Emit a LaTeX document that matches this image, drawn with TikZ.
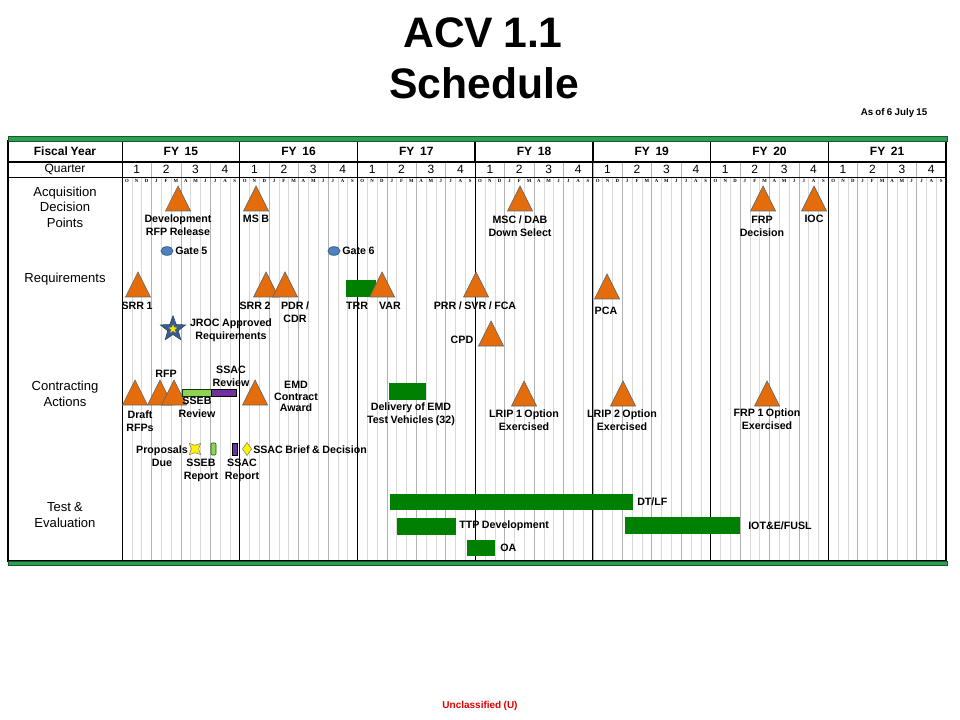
\documentclass[tikz,border=0pt]{standalone}
\usepackage{fontspec}
\setmainfont{Liberation Sans}[WordSpace=0.85]
\newfontfamily\monthfont{Liberation Serif}
\usepackage{tikz}
\usetikzlibrary{shapes.geometric,positioning}
\definecolor{acvGreen}{HTML}{2E9E52}
\definecolor{acvGreenDk}{HTML}{14592E}
\definecolor{acvOrange}{HTML}{E46C0A}
\definecolor{acvBar}{HTML}{008000}
\definecolor{acvLime}{HTML}{92D050}
\definecolor{acvPurple}{HTML}{7030A0}
\definecolor{acvBlue}{HTML}{4F81BD}
\definecolor{acvNavy}{HTML}{385D8A}
\definecolor{acvRed}{HTML}{E00000}
\newcommand{\mstone}[3]{%
  \coordinate (#1) at (#2,#3);
  \draw[mstri] (#1) ++(-12.5,0) -- ++(12.5,-25) -- ++(12.5,25) -- cycle;}

\begin{document}
\begin{tikzpicture}[x=0.75pt,y=-0.75pt,
  lbl/.style={font=\fontsize{8}{9.75}\selectfont\bfseries,align=center,inner sep=0pt},
  rowlbl/.style={font=\fontsize{9.8}{11.6}\selectfont,align=center,inner sep=0pt},
  head/.style={font=\fontsize{9}{10}\selectfont\bfseries,inner sep=0pt},
  qtxt/.style={font=\fontsize{9}{10}\selectfont,inner sep=0pt},
  motxt/.style={font=\monthfont\fontsize{3.6}{3.6}\selectfont\bfseries,inner sep=0pt},
  monthline/.style={gray!30,line width=0.4pt},
  qline/.style={gray!60,line width=0.4pt},
  fyline/.style={black,line width=0.6pt},
  mstri/.style={fill=acvOrange,draw=gray!80!black,line width=0.5pt},
  barbox/.style={fill=acvBar,draw=none},
  gate/.style={ellipse,fill=acvBlue,draw=acvNavy,line width=0.6pt,
    minimum width=9pt,minimum height=6.5pt,inner sep=0pt}]

  \useasboundingbox (0,0) rectangle (960,720);

  % title
  \node[font=\fontsize{32}{34}\selectfont\bfseries,anchor=base] (title) at (483,48) {ACV 1.1};
  \node[font=\fontsize{32}{34}\selectfont\bfseries,anchor=base] (subtitle) at (484,99) {Schedule};
  \node[font=\fontsize{7.3}{8}\selectfont\bfseries,anchor=base east] (asof) at (932,116) {As of 6 July 15};

  % grid
  \foreach \m in {1,...,83}
    \draw[monthline] ({122+\m*9.8095},177) -- ({122+\m*9.8095},561);
  \foreach \q in {1,...,27}
    \draw[qline] ({122+\q*29.4286},162) -- ({122+\q*29.4286},561);
  \foreach \k in {0,...,6}
    \draw[fyline] ({122+\k*117.714},141) -- ({122+\k*117.714},561);
  \foreach \k in {1,...,6}
    \draw[line width=1.1pt] ({122+\k*117.714},141) -- ({122+\k*117.714},162);
  \draw[line width=0.8pt] (8,141) rectangle (946,561);
  \draw[line width=0.8pt] (8,162) -- (946,162);
  \draw[line width=0.6pt] (8,177) -- (946,177);
  \draw[fill=acvGreen,draw=acvGreenDk,line width=0.4pt] (8,136) rectangle (947,141);
  \draw[fill=acvGreen,draw=acvGreenDk,line width=0.4pt] (8,561) rectangle (947,565);

  % header
  \node[head] (fyhd) at (65,151.5) {Fiscal Year};
  \node[qtxt] (qhd) at (65,169.5) {Quarter};
  \foreach [count=\k from 0] \fy in {15,...,21} {
    \node[head] (fy\fy) at ({122+(\k+0.5)*117.714},151.5) {FY\ \ \fy};
    \foreach \q in {1,...,4}
      \node[qtxt] (q\fy-\q) at ({122+(\k*4+\q-0.5)*29.4286},169.5) {\q};
    \foreach [count=\i from 0] \mname in {O,N,D,J,F,M,A,M,J,J,A,S}
      \node[motxt] (m\fy-\i) at ({122+(\k*12+\i+0.5)*9.8095},180.5) {\mname};
  }

  % row labels
  \node[rowlbl] (adp) at (65,207) {Acquisition\\Decision\\Points};
  \node[rowlbl] (req) at (65,279) {Requirements};
  \node[rowlbl] (ca) at (65,394) {Contracting\\Actions};
  \node[rowlbl] (te) at (65,515) {Test \&\\Evaluation};

  % acquisition decision points
  \mstone{devrfp}{178}{211}
  \mstone{msb}{256}{211}
  \mstone{msc}{520}{211}
  \mstone{frpd}{763}{211}
  \mstone{ioc}{814}{211}
  \node[lbl] (devrfp-l) at (178,225.5) {Development\\RFP Release};
  \node[lbl] (msb-l) at (256,219) {MS B};
  \node[lbl] (msc-l) at (520,226) {MSC / DAB\\Down Select};
  \node[lbl] (frpd-l) at (762,226) {FRP\\Decision};
  \node[lbl] (ioc-l) at (814,219) {IOC};
  \node[gate] (gate5) at (167,251) {};
  \node[lbl,anchor=west] (gate5-l) at (175,251) {Gate 5};
  \node[gate] (gate6) at (334,251) {};
  \node[lbl,anchor=west] (gate6-l) at (342,251) {Gate 6};

  % requirements
  \mstone{srr1}{138}{297}
  \mstone{srr2}{266}{297}
  \mstone{pdr}{285}{297}
  \fill[acvBar] (346,280) rectangle (376,297);
  \mstone{var}{382}{297}
  \mstone{prr}{476}{297}
  \mstone{cpd}{491}{346}
  \mstone{pca}{607}{299}
  \node[lbl] (srr1-l) at (137,306) {SRR 1};
  \node[lbl] (srr2-l) at (255,306) {SRR 2};
  \node[lbl] (pdr-l) at (295,312.5) {PDR /\\CDR};
  \node[lbl] (trr-l) at (357,306) {TRR};
  \node[lbl] (var-l) at (390,306) {VAR};
  \node[lbl] (prr-l) at (475,306) {PRR / SVR / FCA};
  \node[lbl] (cpd-l) at (462,340) {CPD};
  \node[lbl] (pca-l) at (606,311) {PCA};
  \node[star,star points=5,star point ratio=2.4,fill=acvNavy,draw=acvNavy!70!black,
    minimum size=20pt,inner sep=0pt] (jroc) at (173,329) {};
  \node[star,star points=5,star point ratio=2.4,fill=yellow!80!orange,
    minimum size=7pt,inner sep=0pt] (jroc-c) at (jroc) {};
  \node[lbl] (jroc-l) at (231,330) {JROC Approved\\Requirements};

  % contracting actions
  \mstone{draft}{135}{405}
  \mstone{rfp1}{160}{405}
  \mstone{rfp2}{174}{405}
  \draw[fill=acvLime,draw=acvGreenDk!60!black,line width=0.4pt] (182,389) rectangle (211,396);
  \draw[fill=acvPurple,draw=black,line width=0.5pt] (211,389) rectangle (236,396);
  \mstone{emd}{255}{405}
  \fill[acvBar] (389,383) rectangle (426,400);
  \mstone{lrip1}{524}{406}
  \mstone{lrip2}{623}{406}
  \mstone{frp1}{767}{406}
  \node[lbl] (draft-l) at (140,421) {Draft\\RFPs};
  \node[lbl] (rfp-l) at (166,374) {RFP};
  \node[lbl] (ssacr-l) at (231,376.5) {SSAC\\Review};
  \node[lbl] (sseb-l) at (197,407.5) {SSEB\\Review};
  \node[lbl,font=\fontsize{8}{8.6}\selectfont\bfseries] (emd-l) at (296,396.5) {EMD\\Contract\\Award};
  \node[lbl] (deliv-l) at (411,414.5) {Delivery of EMD\\Test Vehicles (32)};
  \node[lbl] (lrip1-l) at (524,420.5) {LRIP 1 Option\\Exercised};
  \node[lbl] (lrip2-l) at (622,420.5) {LRIP 2 Option\\Exercised};
  \node[lbl] (frp1-l) at (767,419.5) {FRP 1 Option\\Exercised};

  % source selection events
  \node[lbl] (prop-l) at (162,456.5) {Proposals\\Due};
  \node[star,star points=4,star point ratio=2.2,rotate=45,fill=yellow,draw=gray,
    line width=0.4pt,minimum size=12pt,inner sep=0pt] (prop) at (195,449) {};
  \draw[fill=acvLime,draw=acvGreenDk,line width=0.4pt,rounded corners=0.8pt] (211,443) rectangle (216,455);
  \draw[fill=acvPurple,draw=black,line width=0.4pt] (232,443) rectangle (237,455);
  \node[diamond,fill=yellow,draw=gray,line width=0.4pt,minimum width=7pt,
    minimum height=10pt,inner sep=0pt] (ssacd) at (247,449) {};
  \node[lbl,anchor=west] (ssacd-l) at (253,450) {SSAC Brief \& Decision};
  \node[lbl] (ssebr-l) at (201,470.5) {SSEB\\Report};
  \node[lbl] (ssacrp-l) at (242,470.5) {SSAC\\Report};

  % test and evaluation
  \fill[acvBar] (390,494) rectangle (633,510);
  \fill[acvBar] (397,518) rectangle (456,535);
  \fill[acvBar] (625,517) rectangle (740,534);
  \fill[acvBar] (467,540) rectangle (495,556);
  \node[lbl,anchor=west] (dtlf-l) at (637,502) {DT/LF};
  \node[lbl,anchor=west] (ttp-l) at (459,526) {TTP Development};
  \node[lbl,anchor=west] (iot-l) at (748,526) {IOT\&E/FUSL};
  \node[lbl,anchor=west] (oa-l) at (500,548) {OA};

  \node[font=\fontsize{7.5}{8}\selectfont\bfseries,text=acvRed,anchor=base] (uncl) at (480,708) {Unclassified (U)};
\end{tikzpicture}
\end{document}
